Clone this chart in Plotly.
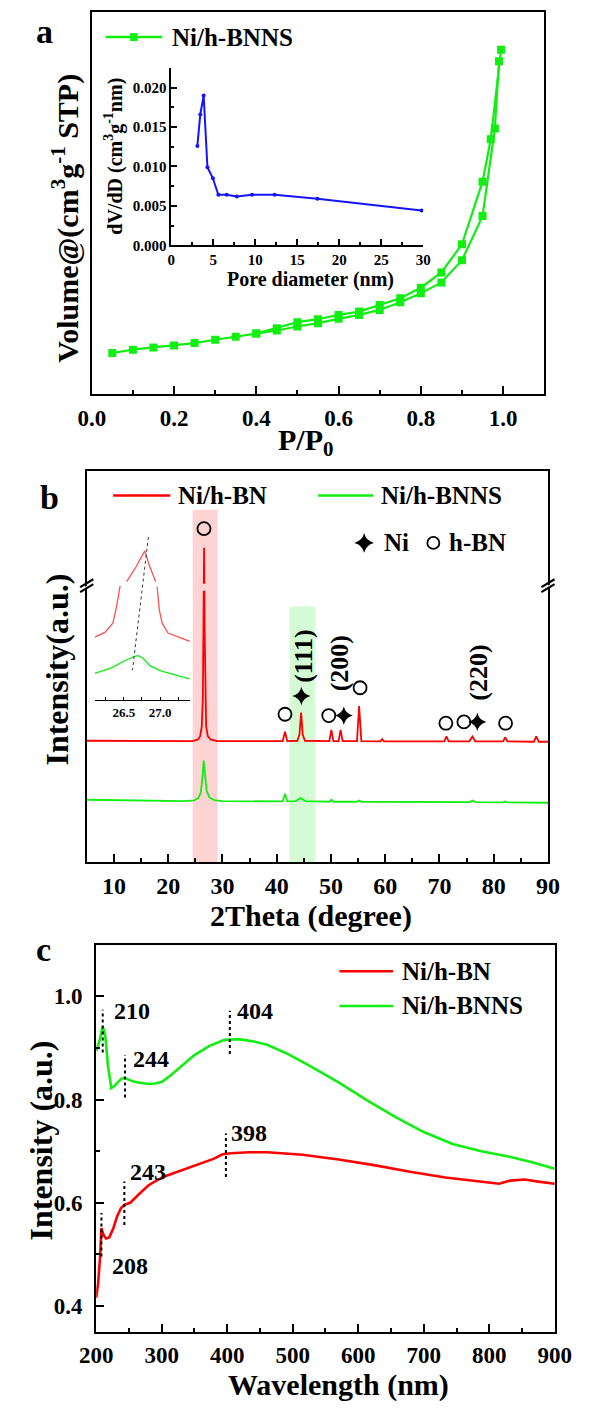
import plotly.graph_objects as go

W, H = 593, 1410
FONT = "Liberation Serif"
GREEN = "#11ee11"
RED = "#ff0000"
BLUE = "#1414ff"

# ---------------- panel a: N2 adsorption-desorption isotherm ----------------
ads_p = [0.05, 0.10, 0.15, 0.20, 0.25, 0.30, 0.35, 0.40, 0.45, 0.50, 0.55,
         0.60, 0.65, 0.70, 0.75, 0.80, 0.85, 0.90, 0.95, 0.98, 0.99]
ads_v = [37.5, 40.5, 42.6, 44.4, 46.5, 49.5, 52.2, 55.2, 57.9, 61.5, 64.5,
         68.4, 72.0, 76.5, 83.4, 91.5, 101.4, 121.5, 161.4, 240.6, 301.5]
des_p = [0.995, 0.97, 0.95, 0.90, 0.85, 0.80, 0.75, 0.70, 0.65, 0.60, 0.55,
         0.50, 0.45, 0.40]
des_v = [312.0, 231.0, 192.6, 135.9, 110.4, 96.6, 87.0, 81.0, 75.0, 72.0,
         68.1, 65.4, 60.0, 55.2]

# pore size distribution (inset)
pore_d = [3.1, 3.45, 3.85, 4.3, 4.95, 5.6, 6.6, 7.8, 9.6, 12.3, 17.4, 29.8]
pore_dvdd = [0.0126, 0.0166, 0.0190, 0.0099, 0.0085, 0.0064, 0.0064, 0.0062,
             0.0064, 0.0064, 0.0059, 0.0044]

# ---------------- panel b: XRD patterns ----------------
xrd_red_t = [5.0, 10, 15, 20, 24.5, 25.5, 25.9, 26.2, 26.4, 26.5, 26.62, 26.72,
             26.82, 27.0, 27.3, 27.8, 29.0, 35, 41.1, 41.53, 41.95, 43.8, 44.2,
             44.5, 44.8, 45.2, 49.7, 50.07, 50.45, 51.4, 51.78, 52.15, 54.8,
             55.19, 55.6, 59.1, 59.46, 59.8, 70.9, 71.28, 71.7, 75.5, 76.07,
             76.6, 81.7, 82.12, 82.5, 87.4, 87.83, 88.3, 90]
xrd_red_i = [36.6, 36.6, 36.5, 36.5, 36.5, 37.0, 38.0, 41.0, 50.0, 70.0, 94.8,
             70.0, 50.0, 41.0, 38.0, 37.0, 36.5, 36.5, 36.5, 39.3, 36.5, 36.6,
             38.5, 45.1, 38.5, 36.6, 36.5, 39.9, 36.5, 36.5, 39.9, 36.5, 36.5,
             47.1, 36.5, 36.4, 37.1, 36.4, 36.4, 37.9, 36.4, 36.4, 37.9, 36.4,
             36.4, 37.6, 36.4, 36.3, 37.9, 36.3, 36.3]
xrd_grn_t = [5, 15, 23, 24.8, 25.6, 26.0, 26.3, 26.55, 26.8, 27.1, 27.6, 28.5,
             30, 41.1, 41.53, 41.95, 43.5, 44.4, 45.3, 49.7, 50.1, 50.5, 54.8,
             55.2, 55.6, 75.6, 76.1, 76.6, 81.7, 82.1, 82.5, 90]
xrd_grn_i = [18.8, 18.6, 18.4, 18.6, 19.4, 21.0, 25.0, 30.6, 25.5, 21.5, 19.5,
             18.7, 18.4, 18.3, 20.6, 18.3, 18.4, 19.3, 18.4, 18.2, 18.8, 18.2,
             18.2, 18.6, 18.2, 18.1, 18.6, 18.1, 18.0, 18.3, 18.0, 17.9]

# phase markers
hbn_t = [26.6, 41.53, 49.6, 55.37, 71.18, 74.5, 82.18]
hbn_i = [100.6, 44.6, 44.2, 52.6, 41.9, 42.3, 41.9]
ni_t = [44.55, 52.37, 76.97]
ni_i = [50.1, 44.2, 42.3]
hkl_text = ["(111)", "(200)", "(220)"]
hkl_t = [44.95, 51.5, 77.26]
hkl_i = [62.1, 60.0, 57.1]

# inset: enlarged (002) region, broken where the axis break crosses
zoom_red_t = [26.10, 26.24, 26.35, 26.40, 26.45, None, 26.54, 26.67, 26.79,
              26.85, 26.94, None, 26.96, 26.99, 27.03, 27.11, 27.41]
zoom_red_i = [63.3, 68.0, 77.3, 94.0, 114.7, None, 119.0, 134.0, 150.0,
              136.0, 119.0, None, 114.0, 90.7, 77.3, 67.3, 59.0]
zoom_grn_t = [26.10, 26.33, 26.50, 26.65, 26.70, 26.76, 26.87, 27.02, 27.41]
zoom_grn_i = [26.7, 32.3, 39.0, 44.0, 44.7, 42.3, 34.0, 29.0, 21.3]
shift_t = [26.84, 26.62]
shift_i = [164.0, 30.0]

# ---------------- panel c: UV-vis spectra ----------------
uv_grn_w = [200, 205, 210, 214, 218, 223, 228, 233, 238, 244, 250, 260, 270,
            280, 290, 300, 313, 330, 350, 373, 395, 417, 439, 461, 493, 526,
            570, 613, 657, 700, 744, 788, 831, 864, 900]
uv_grn_i = [0.894, 0.913, 0.942, 0.922, 0.865, 0.822, 0.826, 0.833, 0.840,
            0.842, 0.838, 0.834, 0.832, 0.830, 0.831, 0.834, 0.846, 0.865,
            0.886, 0.904, 0.915, 0.917, 0.913, 0.906, 0.888, 0.865, 0.833,
            0.799, 0.766, 0.737, 0.714, 0.700, 0.689, 0.679, 0.666]
uv_red_w = [200, 203, 206, 208, 211, 215, 220, 226, 232, 238, 243, 252, 264,
            280, 302, 330, 357, 379, 393, 406, 433, 461, 515, 570, 624, 679,
            733, 788, 815, 832, 854, 875, 900]
uv_red_i = [0.416, 0.445, 0.496, 0.551, 0.538, 0.531, 0.533, 0.550, 0.574,
            0.590, 0.596, 0.600, 0.615, 0.634, 0.650, 0.663, 0.676, 0.685,
            0.694, 0.696, 0.698, 0.698, 0.693, 0.684, 0.673, 0.660, 0.649,
            0.641, 0.637, 0.643, 0.645, 0.641, 0.637]
grn_marks = [210, 244, 404]
grn_mark_lo = [0.891, 0.804, 0.888]
grn_mark_hi = [0.974, 0.886, 0.972]
red_marks = [208, 243, 398]
red_mark_lo = [0.496, 0.557, 0.650]
red_mark_hi = [0.580, 0.641, 0.734]


def fx(px):
    return px / W


def fy(py):
    return 1 - py / H


def bold(size):
    return dict(family=FONT, size=size, color="black", weight="bold")


fig = go.Figure()

# panel a
for p, v in ((ads_p, ads_v), (des_p, des_v)):
    fig.add_trace(go.Scatter(x=p, y=v, mode="lines+markers", xaxis="x", yaxis="y",
                             line=dict(color=GREEN, width=2.2),
                             marker=dict(symbol="square", size=8, color=GREEN)))
fig.add_trace(go.Scatter(x=pore_d, y=pore_dvdd, mode="lines+markers",
                         xaxis="x2", yaxis="y2", line=dict(color=BLUE, width=2),
                         marker=dict(size=4, color=BLUE)))

# panel b
fig.add_trace(go.Scatter(x=xrd_red_t, y=xrd_red_i, mode="lines", xaxis="x3",
                         yaxis="y3", line=dict(color=RED, width=1.8)))
fig.add_trace(go.Scatter(x=xrd_grn_t, y=xrd_grn_i, mode="lines", xaxis="x3",
                         yaxis="y3", line=dict(color=GREEN, width=1.8)))
fig.add_trace(go.Scatter(x=hbn_t, y=hbn_i, mode="markers", xaxis="x3", yaxis="y3",
                         marker=dict(symbol="circle-open", size=13, color="black",
                                     line=dict(width=1.8, color="black"))))
fig.add_trace(go.Scatter(x=ni_t, y=ni_i, mode="markers", xaxis="x3", yaxis="y3",
                         marker=dict(symbol="star-diamond", size=13, color="black")))
fig.add_trace(go.Scatter(x=zoom_red_t, y=zoom_red_i, mode="lines", xaxis="x4",
                         yaxis="y4", line=dict(color="#ff5050", width=1.3),
                         connectgaps=False))
fig.add_trace(go.Scatter(x=zoom_grn_t, y=zoom_grn_i, mode="lines", xaxis="x4",
                         yaxis="y4", line=dict(color=GREEN, width=1.3)))
fig.add_trace(go.Scatter(x=shift_t, y=shift_i, mode="lines", xaxis="x4",
                         yaxis="y4", line=dict(color="#333333", width=1, dash="dot")))

# panel c
fig.add_trace(go.Scatter(x=uv_red_w, y=uv_red_i, mode="lines", xaxis="x5",
                         yaxis="y5", line=dict(color=RED, width=2.6)))
fig.add_trace(go.Scatter(x=uv_grn_w, y=uv_grn_i, mode="lines", xaxis="x5",
                         yaxis="y5", line=dict(color=GREEN, width=2.6)))

frame = dict(showline=True, linewidth=2, linecolor="black", mirror=True,
             showgrid=False, zeroline=False)
tick_in = dict(ticks="inside", tickwidth=2, tickcolor="black")


def minor(vals, length):
    return dict(tickvals=vals, ticks="inside", ticklen=length, tickwidth=2,
                tickcolor="black", showgrid=False)


fig.update_layout(
    width=W, height=H, margin=dict(l=0, r=0, t=0, b=0),
    paper_bgcolor="white", plot_bgcolor="white", showlegend=False,
    # panel a
    xaxis=dict(domain=[fx(79.3), fx(559.3)], range=[0, 1.1], anchor="y", **frame,
               **tick_in, ticklen=8, tickvals=[0, 0.2, 0.4, 0.6, 0.8, 1.0],
               ticktext=["0.0", "0.2", "0.4", "0.6", "0.8", "1.0"],
               minor=minor([0.1, 0.3, 0.5, 0.7, 0.9], 4), tickfont=bold(23),
               ticklabelstandoff=2),
    yaxis=dict(domain=[fy(396.7), fy(12)], range=[0, 346.2], anchor="x", **frame,
               showticklabels=False, ticks=""),
    xaxis2=dict(domain=[fx(163.7), fx(431)], range=[0, 30], anchor="y2",
                showline=True, linewidth=1.8, linecolor="black", showgrid=False,
                zeroline=False, **tick_in, ticklen=6,
                tickvals=[0, 5, 10, 15, 20, 25, 30],
                minor=minor([2.5, 7.5, 12.5, 17.5, 22.5, 27.5], 3),
                tickfont=bold(15), ticklabelstandoff=0),
    yaxis2=dict(domain=[fy(246.7), fy(68.3)], range=[0, 0.0225], anchor="x2",
                showline=True, linewidth=1.8, linecolor="black", showgrid=False,
                zeroline=False, **tick_in, ticklen=6,
                tickvals=[0, 0.005, 0.01, 0.015, 0.02],
                ticktext=["0.000", "0.005", "0.010", "0.015", "0.020"],
                minor=minor([0.0025, 0.0075, 0.0125, 0.0175], 3),
                tickfont=bold(15), ticklabelstandoff=0),
    # panel b
    xaxis3=dict(domain=[fx(74), fx(563.3)], range=[5, 90], anchor="y3", **frame,
                **tick_in, ticklen=8, tickvals=list(range(10, 91, 10)),
                minor=minor(list(range(15, 90, 10)), 4), tickfont=bold(24),
                ticklabelstandoff=1),
    yaxis3=dict(domain=[fy(867), fy(474)], range=[0, 117.9], anchor="x3", **frame,
                showticklabels=False, ticks=""),
    xaxis4=dict(domain=[fx(82.5), fx(184)], range=[26.1, 27.42], anchor="y4",
                showline=True, linewidth=1.4, linecolor="black", showgrid=False,
                zeroline=False, ticks="inside", ticklen=3, tickwidth=1.2,
                tickcolor="black", tickvals=[26.5, 27.0],
                ticktext=["26.5", "27.0"],
                minor=dict(tickvals=[26.25, 26.75, 27.25], ticks="inside",
                           ticklen=3, tickwidth=1.2, tickcolor="black"),
                tickfont=bold(13), ticklabelstandoff=0),
    yaxis4=dict(domain=[fy(704), fy(530)], range=[0, 174], anchor="x4",
                visible=False),
    # panel c
    xaxis5=dict(domain=[fx(84), fx(570.5)], range=[200, 900], anchor="y5",
                **frame, **tick_in, ticklen=8,
                tickvals=list(range(200, 901, 100)),
                minor=minor(list(range(250, 900, 100)), 4), tickfont=bold(23),
                ticklabelstandoff=1),
    yaxis5=dict(domain=[fy(1340), fy(950)], range=[0.349, 1.1], anchor="x5",
                **frame, **tick_in, ticklen=8, tickvals=[0.4, 0.6, 0.8, 1.0],
                ticktext=["0.4", "0.6", "0.8", "1.0"],
                minor=minor([0.5, 0.7, 0.9], 4), tickfont=bold(23),
                ticklabelstandoff=7),
)

shapes = []
annotations = []


def paper_text(text, px, py, size, xanchor="center", angle=0):
    annotations.append(dict(text=text, x=fx(px), y=fy(py), xref="paper",
                            yref="paper", xanchor=xanchor, yanchor="middle",
                            showarrow=False, font=bold(size), textangle=angle))


def paper_line(x0, y0, x1, y1, color, width):
    shapes.append(dict(type="line", xref="paper", yref="paper", x0=fx(x0),
                       y0=fy(y0), x1=fx(x1), y1=fy(y1),
                       line=dict(color=color, width=width), layer="above"))


# highlighted 2theta windows and the break across the (002) peak
shapes.append(dict(type="rect", xref="x3", yref="y3", x0=24.52, x1=29.12,
                   y0=0, y1=106.3, fillcolor="#fdd3d3", line=dict(width=0),
                   layer="below"))
shapes.append(dict(type="rect", xref="x3", yref="y3", x0=42.38, x1=47.11,
                   y0=0, y1=77.1, fillcolor="#d5fbd5", line=dict(width=0),
                   layer="below"))
shapes.append(dict(type="rect", xref="x3", yref="y3", x0=26.2, x1=27.0,
                   y0=81.9, y1=84.0, fillcolor="#fdd3d3", line=dict(width=0),
                   layer="above"))

# axis break marks on both sides of panel b
for ax_x in (74, 563.3):
    shapes.append(dict(type="path", xref="paper", yref="paper",
                       path="M {} {} L {} {} L {} {} L {} {} Z".format(
                           fx(ax_x - 4), fy(594.5), fx(ax_x + 4), fy(589.5),
                           fx(ax_x + 4), fy(586.5), fx(ax_x - 4), fy(591.5)),
                       fillcolor="white", line=dict(width=0), layer="above"))
    paper_line(ax_x - 7, 595.5, ax_x + 7, 587.5, "black", 2.2)
    paper_line(ax_x - 7, 590.5, ax_x + 7, 582.5, "black", 2.2)

# dotted markers of absorption features (panel c)
for w, lo, hi in list(zip(grn_marks, grn_mark_lo, grn_mark_hi)) + \
        list(zip(red_marks, red_mark_lo, red_mark_hi)):
    shapes.append(dict(type="line", xref="x5", yref="y5", x0=w, x1=w, y0=lo,
                       y1=hi, line=dict(color="black", width=2, dash="dot")))

for text, w, level in zip([str(v) for v in grn_marks + red_marks],
                          [223.5, 252.4, 411.7, 221.8, 248.0, 402.4],
                          [0.972, 0.878, 0.971, 0.477, 0.660, 0.735]):
    annotations.append(dict(text=text, x=w, y=level, xref="x5", yref="y5",
                            xanchor="left", yanchor="middle", showarrow=False,
                            font=bold(24)))

# Miller indices of Ni reflections
for text, t, i in zip(hkl_text, hkl_t, hkl_i):
    annotations.append(dict(text=text, x=t, y=i, xref="x3", yref="y3",
                            xanchor="center", yanchor="middle", showarrow=False,
                            font=bold(26), textangle=-90))

# legends
paper_line(94, 37.3, 154, 37.3, GREEN, 2.5)
shapes.append(dict(type="rect", xref="paper", yref="paper", x0=fx(120),
                   x1=fx(128), y0=fy(41.3), y1=fy(33.3), fillcolor=GREEN,
                   line=dict(width=0), layer="above"))
paper_text("Ni/h-BNNS", 162, 37.3, 25, "left")

paper_line(102, 498.3, 162.6, 498.3, RED, 2.5)
paper_text("Ni/h-BN", 168.2, 498.3, 25, "left")
paper_line(319.5, 498.3, 378, 498.3, GREEN, 2.5)
paper_text("Ni/h-BNNS", 383.7, 498.3, 25, "left")
fig.add_trace(go.Scatter(x=[56.12], y=[96.3], mode="markers", xaxis="x3",
                         yaxis="y3", marker=dict(symbol="star-diamond", size=14,
                                                 color="black")))
fig.add_trace(go.Scatter(x=[68.87], y=[96.3], mode="markers", xaxis="x3",
                         yaxis="y3", marker=dict(symbol="circle-open", size=12,
                                                 color="black",
                                                 line=dict(width=1.8, color="black"))))
paper_text("Ni", 387.3, 546, 25, "left")
paper_text("h-BN", 456, 546, 25, "left")

paper_line(342, 976.7, 399, 976.7, RED, 2.5)
paper_text("Ni/h-BN", 406.4, 976.7, 25, "left")
paper_line(342, 1011.7, 399, 1011.7, GREEN, 2.5)
paper_text("Ni/h-BNNS", 406.4, 1011.7, 25, "left")

# panel letters
paper_text("a", 29, 31.5, 34)
paper_text("b", 34, 500, 34)
paper_text("c", 28.4, 955, 34)

# axis titles
paper_text("Volume@(cm<sup>3</sup>g<sup>-1</sup> STP)", 52, 220, 30, angle=-90)
paper_text("P/P<sub>0</sub>", 307, 445, 30)
paper_text("dV/dD (cm<sup>3</sup>g<sup>-1</sup>nm)", 103, 157.5, 20, angle=-90)
paper_text("Pore diameter (nm)", 311, 281, 20)
paper_text("Intensity(a.u.)", 42.5, 673.3, 32, angle=-90)
paper_text("2Theta (degree)", 312, 921, 30)
paper_text("Intensity (a.u.)", 25.5, 1147, 32, angle=-90)
paper_text("Wavelength (nm)", 341, 1393, 30)

fig.update_layout(shapes=shapes, annotations=annotations)
fig.write_html("out.html")
